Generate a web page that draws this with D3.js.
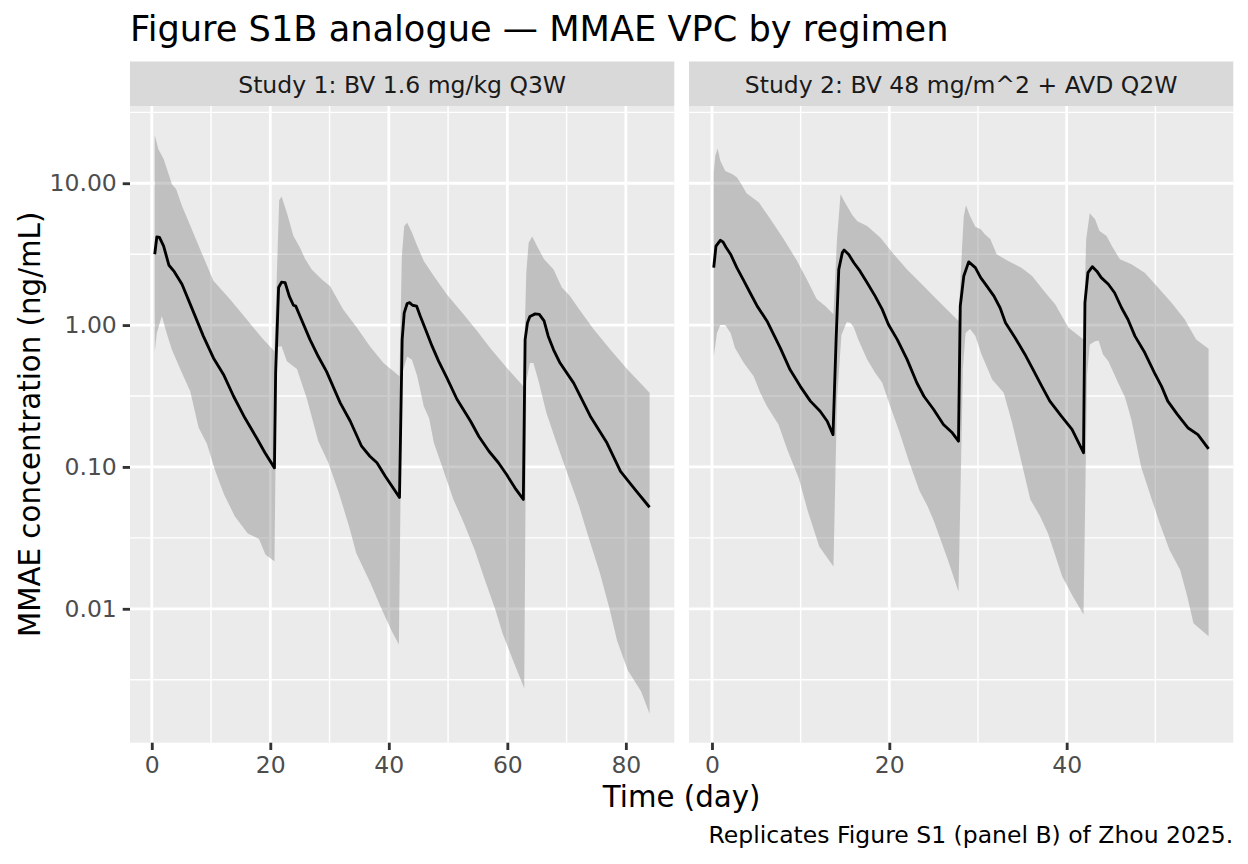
<!DOCTYPE html>
<html>
<head>
<meta charset="utf-8">
<script src="https://cdn.jsdelivr.net/npm/d3@7"></script>
<style>
  body { margin: 0; background: #fff; }
  svg { display: block; font-family: "DejaVu Sans", sans-serif; }
</style>
</head>
<body>
<div id="chart"></div>
<script>
"use strict";

// Facet labels
const panelLabels = ["Study 1: BV 1.6 mg/kg Q3W", "Study 2: BV 48 mg/m^2 + AVD Q2W"];

// Study 1, [day, ng/mL]
const s1Median = [[0.5, 3.16], [0.85, 4.18], [1.3, 4.15], [2.0, 3.6], [2.9, 2.64], [3.8, 2.38], [5.1, 1.94], [6.5, 1.40], [8.7, 0.836], [10.4, 0.587], [12.1, 0.449], [13.8, 0.315], [15.7, 0.222], [17.7, 0.160], [19.1, 0.126], [20.7, 0.0985],
  [20.9, 0.46], [21.4, 1.84], [21.9, 2.01], [22.5, 1.99], [23.2, 1.6], [23.9, 1.38], [24.3, 1.36], [25.0, 1.16], [26.7, 0.79], [28.1, 0.60], [29.5, 0.47], [31.8, 0.283], [33.5, 0.21], [35.4, 0.14], [36.8, 0.119], [38.0, 0.107], [39.4, 0.086], [41.8, 0.061],
  [42.25, 0.79], [42.6, 1.22], [43.1, 1.42], [43.5, 1.44], [44.0, 1.38], [44.7, 1.36], [45.3, 1.16], [46.2, 0.93], [47.3, 0.71], [48.4, 0.557], [49.8, 0.425], [51.5, 0.30], [53.8, 0.21], [55.2, 0.164], [56.9, 0.129], [58.5, 0.107], [59.9, 0.088], [61.3, 0.071], [62.7, 0.059],
  [63.0, 0.79], [63.4, 1.04], [63.8, 1.15], [64.7, 1.20], [65.4, 1.19], [66.2, 1.07], [66.9, 0.835], [67.8, 0.67], [68.9, 0.54], [71.2, 0.39], [74.0, 0.228], [76.8, 0.148], [79.1, 0.093], [81.6, 0.069], [84.0, 0.052]];

const s1Upper = [[0.5, 21.9], [1.1, 17.4], [2.0, 14.8], [3.4, 9.84], [4.1, 9.1], [5.1, 6.9], [6.75, 4.73], [8.4, 3.24], [10.4, 2.05], [13.2, 1.52], [16.0, 1.10], [18.6, 0.81], [20.7, 0.655],
  [21.5, 7.6], [21.9, 8.05], [22.8, 6.2], [23.9, 4.25], [25.0, 3.52], [25.9, 2.91], [27.0, 2.47], [28.7, 2.10], [30.1, 1.88], [32.3, 1.29], [34.6, 0.96], [36.8, 0.71], [39.1, 0.54], [41.8, 0.436],
  [42.2, 3.07], [42.6, 5.0], [43.1, 5.27], [43.9, 4.49], [44.8, 3.61], [45.9, 2.83], [47.6, 2.22], [49.8, 1.64], [52.6, 1.19], [54.9, 0.91], [57.1, 0.69], [59.9, 0.50], [62.7, 0.37],
  [63.2, 2.34], [63.6, 3.81], [64.2, 4.21], [65.0, 3.61], [66.2, 2.91], [67.8, 2.47], [69.2, 1.84], [70.6, 1.60], [72.3, 1.26], [74.6, 0.93], [77.4, 0.67], [80.2, 0.49], [84.0, 0.333]];

const s1Lower = [[0.5, 0.65], [0.85, 0.88], [1.7, 1.16], [2.5, 0.88], [3.4, 0.67], [4.8, 0.49], [6.5, 0.34], [7.9, 0.19], [9.3, 0.146], [10.7, 0.094], [12.2, 0.064], [14.0, 0.045], [16.2, 0.034], [18.1, 0.031], [19.2, 0.024], [20.7, 0.0216],
  [21.1, 0.70], [21.9, 0.71], [22.8, 0.557], [24.5, 0.49], [26.2, 0.30], [28.1, 0.152], [29.8, 0.107], [31.6, 0.065], [33.3, 0.038], [34.5, 0.0247], [36.9, 0.0152], [38.6, 0.0104], [40.4, 0.0071], [41.7, 0.0056],
  [42.2, 0.45], [43.1, 0.60], [43.9, 0.57], [44.8, 0.436], [45.9, 0.268], [46.8, 0.22], [47.6, 0.148], [49.2, 0.095], [50.9, 0.059], [52.7, 0.040], [54.5, 0.026], [56.2, 0.016], [58.0, 0.0098], [59.2, 0.0067], [60.9, 0.0044], [62.85, 0.00275],
  [63.2, 0.40], [63.8, 0.54], [64.4, 0.54], [65.2, 0.413], [66.6, 0.24], [68.3, 0.148], [70.3, 0.086], [72.1, 0.053], [73.8, 0.031], [75.6, 0.018], [77.3, 0.0098], [78.5, 0.006], [80.3, 0.0037], [82.6, 0.0026], [84.0, 0.00182]];

// Study 2, [day, ng/mL]
const s2Median = [[0.2, 2.54], [0.45, 3.6], [0.94, 3.96], [1.24, 3.86], [1.6, 3.52], [2.1, 3.16], [2.8, 2.54], [3.6, 2.05], [4.3, 1.69], [5.1, 1.36], [6.2, 1.07], [6.95, 0.86], [7.7, 0.69], [8.8, 0.486], [9.96, 0.37], [11.1, 0.291], [12.2, 0.247], [13.0, 0.21], [13.65, 0.169],
  [14.0, 0.79], [14.3, 2.47], [14.7, 3.24], [14.9, 3.38], [15.4, 3.16], [16.0, 2.75], [16.7, 2.4], [17.5, 1.99], [18.4, 1.6], [19.2, 1.29], [19.9, 1.01], [20.9, 0.79], [22.0, 0.573], [23.1, 0.392], [23.9, 0.315], [25.0, 0.254], [26.1, 0.199], [27.1, 0.174], [27.8, 0.152],
  [28.0, 1.36], [28.4, 2.22], [28.95, 2.79], [29.7, 2.54], [30.3, 2.16], [31.0, 1.88], [31.8, 1.6], [32.5, 1.32], [33.1, 1.04], [34.2, 0.81], [35.3, 0.621], [36.3, 0.473], [37.2, 0.37], [38.1, 0.291], [39.4, 0.228], [40.6, 0.184], [41.9, 0.126],
  [42.06, 1.44], [42.4, 2.34], [42.9, 2.58], [43.4, 2.40], [43.9, 2.16], [44.7, 1.94], [45.4, 1.69], [46.2, 1.32], [46.9, 1.10], [47.7, 0.836], [48.8, 0.64], [49.9, 0.461], [50.7, 0.37], [51.4, 0.291], [52.5, 0.234], [53.7, 0.188], [54.8, 0.169], [56.0, 0.134]];

const s2Upper = [[0.2, 11.9], [0.38, 15.6], [0.64, 17.6], [0.94, 14.4], [1.5, 12.2], [2.26, 11.6], [2.8, 11.0], [3.2, 10.1], [3.9, 8.5], [5.3, 7.3], [6.6, 5.57], [8.1, 4.03], [9.6, 2.83], [10.7, 2.1], [11.8, 1.53], [12.8, 1.36], [13.7, 1.19],
  [14.1, 4.03], [14.5, 8.36], [15.0, 7.3], [15.8, 6.0], [16.4, 5.4], [17.5, 5.0], [19.0, 4.13], [20.5, 3.16], [22.0, 2.47], [23.5, 1.99], [25.0, 1.6], [26.5, 1.29], [27.8, 1.07],
  [28.2, 3.5], [28.4, 5.88], [28.65, 7.0], [29.1, 5.88], [29.7, 4.94], [30.3, 4.73], [30.8, 4.36], [31.4, 4.03], [32.1, 3.16], [33.4, 2.83], [34.9, 2.54], [36.1, 2.22], [37.6, 1.69], [38.7, 1.40], [40.2, 0.957], [41.9, 0.79],
  [42.2, 4.03], [42.6, 6.14], [43.2, 5.57], [43.7, 4.61], [44.5, 4.25], [45.1, 3.61], [46.0, 2.91], [47.3, 2.68], [48.8, 2.34], [50.3, 1.84], [51.8, 1.44], [53.3, 1.10], [54.6, 0.79], [56.0, 0.68]];

const s2Lower = [[0.2, 0.60], [0.56, 0.88], [0.94, 1.0], [1.5, 1.0], [2.1, 0.88], [2.6, 0.69], [3.6, 0.54], [4.7, 0.436], [5.45, 0.333], [6.2, 0.268], [7.5, 0.199], [8.5, 0.132], [9.8, 0.083], [10.8, 0.049], [12.1, 0.0275], [13.7, 0.0199],
  [14.1, 0.30], [14.6, 0.85], [15.2, 1.05], [15.6, 1.04], [16.0, 0.96], [16.5, 0.79], [17.5, 0.573], [18.4, 0.461], [19.2, 0.392], [20.1, 0.268], [21.1, 0.179], [22.2, 0.11], [23.4, 0.068], [24.3, 0.053], [25.0, 0.042], [26.6, 0.0222], [27.8, 0.0132],
  [28.3, 0.50], [28.6, 0.88], [29.1, 0.94], [29.7, 0.84], [30.4, 0.62], [31.6, 0.413], [32.9, 0.333], [33.8, 0.21], [34.8, 0.115], [35.9, 0.059], [37.0, 0.045], [37.9, 0.034], [39.5, 0.0169], [40.7, 0.0122], [41.9, 0.0091],
  [42.3, 0.45], [42.6, 0.73], [43.2, 0.77], [43.6, 0.78], [44.1, 0.62], [44.7, 0.557], [45.8, 0.392], [46.6, 0.307], [47.3, 0.215], [48.4, 0.10], [49.6, 0.059], [50.5, 0.04], [51.6, 0.026], [52.8, 0.0188], [53.6, 0.0122], [54.3, 0.0079], [56.0, 0.0064]];

// Axis breaks
const yTicks = [0.01, 0.1, 1, 10];
const yMinorTicks = [0.00316, 0.0316, 0.316, 3.16, 31.6];
const xTicks1 = [0, 20, 40, 60, 80];
const xMinorTicks1 = [10, 30, 50, 70];
const xTicks2 = [0, 20, 40];
const xMinorTicks2 = [10, 30, 50];

const panelData = [
    { label: panelLabels[0], median: s1Median, upper: s1Upper, lower: s1Lower, ticks: xTicks1, minor: xMinorTicks1 },
    { label: panelLabels[1], median: s2Median, upper: s2Upper, lower: s2Lower, ticks: xTicks2, minor: xMinorTicks2 }
];

// Layout (ggplot2 theme_grey at 192 dpi)
const W = 1248, H = 864;
const plotLeft = 130, plotRight = W - 14.7;
const panelTop = 106, panelBottom = 742.7;
const stripTop = 61.5;
const spacing = 14.7;
const panelW = (plotRight - plotLeft - spacing) / 2;
const tickLen = 7.3, tickPad = 5.9;

const svg = d3.select("#chart").append("svg")
    .attr("width", W)
    .attr("height", H)
    .attr("viewBox", [0, 0, W, H]);

// Shared log y-scale with 5% expansion in log space
const allVals = panelData.flatMap(p => p.upper.concat(p.lower, p.median).map(d => d[1]));
const lmin = Math.log10(d3.min(allVals)), lmax = Math.log10(d3.max(allVals));
const lpad = (lmax - lmin) * 0.05;
const yScale = d3.scaleLog()
    .domain([Math.pow(10, lmin - lpad), Math.pow(10, lmax + lpad)])
    .range([panelBottom, panelTop]);

panelData.forEach((p, i) => {
    const left = plotLeft + i * (panelW + spacing);
    const right = left + panelW;

    const xs = p.upper.concat(p.lower, p.median).map(d => d[0]);
    const [xmin, xmax] = d3.extent(xs);
    const xpad = (xmax - xmin) * 0.05;
    const xScale = d3.scaleLinear()
        .domain([xmin - xpad, xmax + xpad])
        .range([left, right]);

    // Strip
    svg.append("rect")
        .attr("x", left).attr("y", stripTop)
        .attr("width", panelW).attr("height", panelTop - stripTop)
        .attr("fill", "#D9D9D9");
    svg.append("text")
        .attr("x", (left + right) / 2).attr("y", 93)
        .attr("text-anchor", "middle")
        .attr("font-size", 23.5)
        .attr("fill", "#1A1A1A")
        .text(p.label);

    // Panel background
    svg.append("rect")
        .attr("x", left).attr("y", panelTop)
        .attr("width", panelW).attr("height", panelBottom - panelTop)
        .attr("fill", "#EBEBEB");

    const grid = svg.append("g").attr("stroke", "#fff").attr("fill", "none");
    grid.selectAll(".ymin").data(yMinorTicks.filter(v => yScale(v) >= panelTop && yScale(v) <= panelBottom))
        .join("line")
        .attr("x1", left).attr("x2", right)
        .attr("y1", d => yScale(d)).attr("y2", d => yScale(d))
        .attr("stroke-width", 1.42);
    grid.selectAll(".xmin").data(p.minor)
        .join("line")
        .attr("y1", panelTop).attr("y2", panelBottom)
        .attr("x1", d => xScale(d)).attr("x2", d => xScale(d))
        .attr("stroke-width", 1.42);
    grid.append("g").selectAll("line").data(yTicks)
        .join("line")
        .attr("x1", left).attr("x2", right)
        .attr("y1", d => yScale(d)).attr("y2", d => yScale(d))
        .attr("stroke-width", 2.84);
    grid.append("g").selectAll("line").data(p.ticks)
        .join("line")
        .attr("y1", panelTop).attr("y2", panelBottom)
        .attr("x1", d => xScale(d)).attr("x2", d => xScale(d))
        .attr("stroke-width", 2.84);

    const line = d3.line()
        .x(d => xScale(d[0]))
        .y(d => yScale(d[1]));

    // 90% interval ribbon: upper edge forward, lower edge back
    svg.append("path")
        .attr("d", line(p.upper.concat(p.lower.slice().reverse())) + "Z")
        .attr("fill", "#7F7F7F")
        .attr("fill-opacity", 0.4);

    // Median
    svg.append("path")
        .attr("d", line(p.median))
        .attr("fill", "none")
        .attr("stroke", "#000")
        .attr("stroke-width", 2.84)
        .attr("stroke-linejoin", "round");

    // x axis
    svg.append("g")
        .attr("transform", `translate(0,${panelBottom})`)
        .call(d3.axisBottom(xScale).tickValues(p.ticks).tickSize(tickLen).tickPadding(tickPad).tickFormat(d3.format("d")))
        .call(g => g.select(".domain").remove())
        .call(g => g.selectAll(".tick line").attr("stroke", "#333333").attr("stroke-width", 2.84))
        .call(g => g.selectAll(".tick text")
            .attr("font-family", "DejaVu Sans")
            .attr("font-size", 23.5)
            .attr("fill", "#4D4D4D"));

    // y axis only on the first panel
    if (i === 0) {
        svg.append("g")
            .attr("transform", `translate(${left},0)`)
            .call(d3.axisLeft(yScale).tickValues(yTicks).tickSize(tickLen).tickPadding(tickPad).tickFormat(d3.format(".2f")))
            .call(g => g.select(".domain").remove())
            .call(g => g.selectAll(".tick line").attr("stroke", "#333333").attr("stroke-width", 2.84))
            .call(g => g.selectAll(".tick text")
                .attr("font-family", "DejaVu Sans")
                .attr("font-size", 23.5)
                .attr("fill", "#4D4D4D"));
    }
});

// Titles
svg.append("text")
    .attr("x", plotLeft).attr("y", 40.5)
    .attr("font-size", 35.2)
    .attr("fill", "#000")
    .text("Figure S1B analogue \u2014 MMAE VPC by regimen");

svg.append("text")
    .attr("x", (plotLeft + plotRight) / 2).attr("y", 807)
    .attr("text-anchor", "middle")
    .attr("font-size", 29.3)
    .attr("fill", "#000")
    .text("Time (day)");

svg.append("text")
    .attr("transform", `translate(39.5,${(panelTop + panelBottom) / 2}) rotate(-90)`)
    .attr("text-anchor", "middle")
    .attr("font-size", 29.3)
    .attr("fill", "#000")
    .text("MMAE concentration (ng/mL)");

svg.append("text")
    .attr("x", plotRight).attr("y", 843)
    .attr("text-anchor", "end")
    .attr("font-size", 23.5)
    .attr("fill", "#000")
    .text("Replicates Figure S1 (panel B) of Zhou 2025.");
</script>
</body>
</html>
